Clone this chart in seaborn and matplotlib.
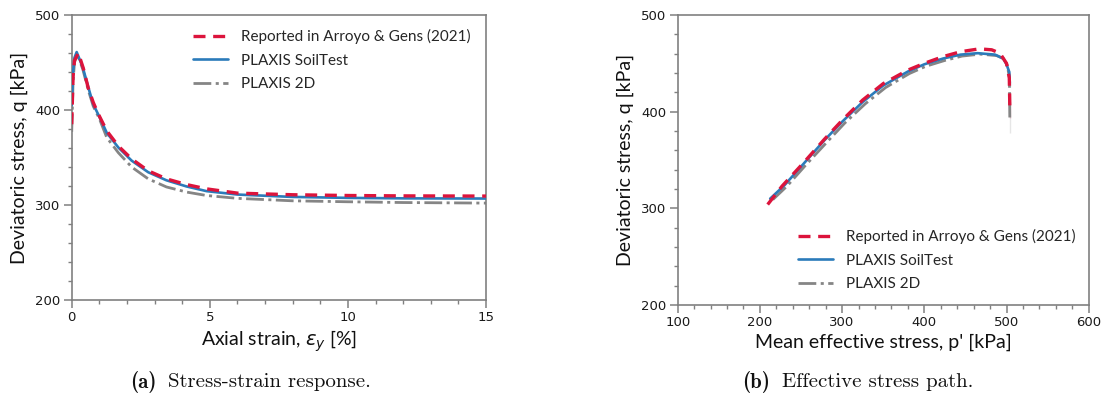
import matplotlib
matplotlib.use("Agg")
import matplotlib.pyplot as plt
import seaborn as sns

# --- Stress-strain response (axial strain in %, deviatoric stress in kPa) ---
strain_arroyo = [0, 0.05, 0.1, 0.24, 0.42, 0.6, 0.78, 0.96, 1.27, 1.69, 2.17,
                 2.77, 3.43, 4.16, 4.88, 6, 8, 10, 12, 15]
q_arroyo = [385, 435, 452, 460, 444, 423, 408, 396, 378, 362, 348.5,
            336, 327.5, 321.5, 317, 312.5, 310.8, 310, 309.6, 309.4]

strain_soiltest = [0, 0.05, 0.1, 0.18, 0.4, 0.6, 0.78, 1.0, 1.27, 1.69, 2.17,
                   2.77, 3.43, 4.16, 4.88, 6, 8, 10, 12, 15]
q_soiltest = [405, 440, 455, 461, 445, 424, 406, 393, 376, 360.5, 346.7,
              334.5, 326, 319.5, 314.6, 311, 308.5, 307.5, 307, 306.8]

strain_2d = [0, 0.05, 0.1, 0.2, 0.4, 0.6, 0.78, 1.0, 1.27, 1.69, 2.17,
             2.77, 3.43, 4.16, 4.88, 6, 8, 10, 12, 15]
q_2d = [377, 430, 450, 459, 443, 421, 404, 391, 371, 355, 340,
        327.5, 319, 313.6, 310, 307, 304.4, 303.4, 302.6, 302]

# --- Effective stress path (mean effective stress p' vs q, in kPa) ---
p_path_arroyo = [504, 504, 503.4, 500, 492, 482, 467, 444, 423, 400, 380, 350,
                 325, 300, 278, 253, 227, 204]
q_path_arroyo = [393, 420, 435, 450, 460.5, 464, 465, 462, 457, 450, 443, 429,
                 412, 391, 371, 347, 323, 298]

p_path_soiltest = [504, 504, 503.4, 500, 496, 486, 465, 444, 423, 400, 380, 350,
                   325, 300, 278, 253, 230, 212.5]
q_path_soiltest = [426, 433, 441, 449, 455, 459, 460.5, 459, 455, 449, 441.5, 427,
                   410, 389.5, 370, 346, 324, 310]

p_path_2d = [504, 504, 503.5, 501, 496, 488, 468, 446, 425, 402, 382, 353,
             328, 303, 281, 256, 233, 214.5]
q_path_2d = [378, 410, 435, 448, 455, 458, 459.5, 457.5, 453, 447, 439.5, 425,
             408, 388, 368, 345, 323, 308]

series_labels = ["Reported in Arroyo & Gens (2021)", "PLAXIS SoilTest", "PLAXIS 2D"]

sns.set_theme(style="ticks")
plt.rcParams["font.family"] = ["DejaVu Sans"]

RED = "#dc143c"
BLUE = "#2b7bba"
GRAY = "#858585"
SPINE = "#808080"
label_font = ["Lato", "DejaVu Sans"]

styles = [
    dict(color=RED, linestyle=(0, (3.6, 2.3)), linewidth=2.4, zorder=4),
    dict(color=BLUE, linestyle="-", linewidth=1.9, zorder=3),
    dict(color=GRAY, linestyle=(0, (6.4, 1.6, 1.1, 1.6)), linewidth=2.0, zorder=2),
]

fig = plt.figure(figsize=(11.06, 3.96), dpi=100)
ax1 = fig.add_axes([71.7 / 1106, 1 - 300 / 396, 414.3 / 1106, 285 / 396])
ax2 = fig.add_axes([677.7 / 1106, 1 - 305 / 396, 411 / 1106, 290 / 396])

curves_a = [(strain_arroyo, q_arroyo), (strain_soiltest, q_soiltest), (strain_2d, q_2d)]
curves_b = [(p_path_arroyo, q_path_arroyo), (p_path_soiltest, q_path_soiltest),
            (p_path_2d, q_path_2d)]

for ax, curves in ((ax1, curves_a), (ax2, curves_b)):
    for (xs, ys), lab, st in zip(curves, series_labels, styles):
        sns.lineplot(x=xs, y=ys, ax=ax, sort=False, label=lab, **st)

ax1.set_xlim(0, 15)
ax1.set_ylim(200, 500)
ax1.set_xticks([0, 5, 10, 15])
ax1.set_xticks(range(0, 16), minor=True)
ax2.set_xlim(100, 600)
ax2.set_ylim(200, 500)
ax2.set_xticks([100, 200, 300, 400, 500, 600])
ax2.set_xticks(range(100, 601, 20), minor=True)

for ax in (ax1, ax2):
    ax.set_yticks([200, 300, 400, 500])
    ax.set_yticks(range(200, 501, 20), minor=True)
    for sp in ax.spines.values():
        sp.set_visible(True)
        sp.set_color(SPINE)
        sp.set_linewidth(1.2)
    ax.tick_params(which="major", direction="out", length=6, width=1.1,
                   color=SPINE, labelsize=9.5, labelcolor="#1a1a1a", pad=2)
    ax.tick_params(which="minor", direction="out", length=3, width=1.0, color=SPINE)
    ax.set_ylabel("Deviatoric stress, q [kPa]", fontsize=14, family=label_font,
                  color="#111111", labelpad=5)

ax1.set_xlabel(r"Axial strain, $\varepsilon_y$ [%]", fontsize=14, family=label_font,
               color="#111111", labelpad=3)
ax2.set_xlabel("Mean effective stress, p' [kPa]", fontsize=14, family=label_font,
               color="#111111", labelpad=3)

leg_kw = dict(frameon=False, prop={"family": label_font, "size": 11},
              handlelength=2.3, handletextpad=0.85, labelspacing=0.62,
              borderpad=0, borderaxespad=0, loc="upper left")
h, l = ax1.get_legend_handles_labels()
ax1.legend(h, l, bbox_to_anchor=(0.293, 0.95), **leg_kw)
h, l = ax2.get_legend_handles_labels()
ax2.legend(h, l, bbox_to_anchor=(0.293, 0.262), **leg_kw)

cap_kw = dict(fontsize=15, va="center", color="#111111")
fig.text(130 / 1106, 1 - 382 / 396, "(a)", family=["cmb10", "DejaVu Serif"], **cap_kw)
fig.text(168 / 1106, 1 - 382 / 396, "Stress-strain response.",
         family=["cmr10", "DejaVu Serif"], **cap_kw)
fig.text(742.6 / 1106, 1 - 382 / 396, "(b)", family=["cmb10", "DejaVu Serif"], **cap_kw)
fig.text(781.6 / 1106, 1 - 382 / 396, "Effective stress path.",
         family=["cmr10", "DejaVu Serif"], **cap_kw)

fig.savefig("out.png", dpi=100, facecolor="white")
